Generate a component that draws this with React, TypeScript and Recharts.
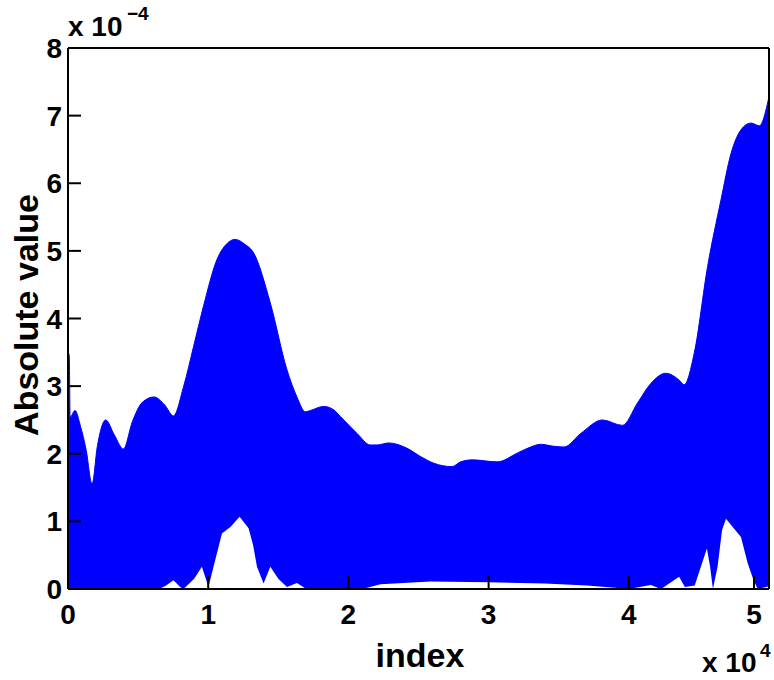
import React from 'react';
import { ComposedChart, Area, XAxis, YAxis } from 'recharts';

// upper envelope of |x| (values in units of 1e-4)
const upperIndex = [
  0, 90, 150, 500, 900, 1300, 1714, 2100, 2690, 3300, 3950, 4600, 5300, 6140, 6900, 7520,
  8240, 8950, 9660, 10620, 11300, 11930, 12600, 13240, 14430, 15620, 16330, 16930,
  17290, 18240, 18950, 19430, 20620, 21570, 22050, 22880, 24190, 25140, 26090, 27400,
  28000, 28830, 30620, 32050, 33000, 33710, 34670, 35380, 36570, 38120, 39550, 40620,
  41570, 42640, 43590, 43950, 44670, 45620, 46570, 47290, 48000, 48710, 49310, 50000,
];
const upperValue = [
  3.5, 3.45, 2.54, 2.64, 2.4, 2.05, 1.55, 2.12, 2.5, 2.28, 2.07, 2.48, 2.76, 2.84, 2.72, 2.56,
  2.99, 3.58, 4.18, 4.87, 5.1, 5.17, 5.1, 4.97, 4.23, 3.24, 2.84, 2.62,
  2.64, 2.7, 2.65, 2.55, 2.3, 2.13, 2.13, 2.16, 2.08, 1.96, 1.86, 1.81,
  1.88, 1.91, 1.88, 2.01, 2.1, 2.14, 2.11, 2.1, 2.3, 2.5, 2.42, 2.75,
  3.04, 3.19, 3.09, 3.02, 3.49, 4.77, 5.75, 6.44, 6.79, 6.89, 6.85, 7.28,
];

// lower envelope (white gap under the band)
const lowerIndex = [
  0, 6500, 7000, 7520, 8000, 8240, 9000, 9550, 10020, 10380, 10980, 11600, 12240, 12880,
  13200, 13480, 13950, 14430, 15000, 15620, 16330, 17000, 21000, 22290, 25860, 30000,
  34000, 37000, 39000, 40000, 41570, 42300, 43590, 44000, 44700, 45570, 45800, 46000,
  46330, 46650, 46930, 48000, 48480, 48900, 49200, 50000,
];
const lowerValue = [
  0, 0, 0.05, 0.13, 0.03, 0, 0.15, 0.33, 0.03, 0.33, 0.82, 0.92, 1.07, 0.9,
  0.65, 0.33, 0.08, 0.33, 0.15, 0.03, 0.09, 0, 0, 0.07, 0.11, 0.1,
  0.08, 0.05, 0.02, 0, 0.06, 0, 0.18, 0.03, 0.05, 0.6, 0.33, 0,
  0.33, 0.87, 1.04, 0.77, 0.38, 0.13, 0, 0.04,
];

const xTicks = [0, 10000, 20000, 30000, 40000, 50000];
const yTicks = [0, 1, 2, 3, 4, 5, 6, 7, 8];

const upperData = upperIndex.map((i, k) => ({ i, hi: upperValue[k] }));
const lowerData = lowerIndex.map((i, k) => ({ i, lo: lowerValue[k] }));

const FONT = '"Liberation Sans", Arial, Helvetica, sans-serif';
const TICK_LEN = 13;

const BottomTick = (props: any) => {
  const { x, y, payload } = props;
  return (
    <g>
      <line x1={x} x2={x} y1={y} y2={y - TICK_LEN} stroke="#000" strokeWidth={2} />
      <text x={x} y={y + 35} textAnchor="middle" fontFamily={FONT} fontWeight="bold" fontSize={28} fill="#000">
        {payload.value / 10000}
      </text>
    </g>
  );
};

const TopTick = (props: any) => {
  const { x, y } = props;
  return <line x1={x} x2={x} y1={y} y2={y + TICK_LEN} stroke="#000" strokeWidth={2} />;
};

const LeftTick = (props: any) => {
  const { x, y, payload } = props;
  return (
    <g>
      <line x1={x} x2={x + TICK_LEN} y1={y} y2={y} stroke="#000" strokeWidth={2} />
      <text x={x - 6} y={y + 10} textAnchor="end" fontFamily={FONT} fontWeight="bold" fontSize={28} fill="#000">
        {payload.value}
      </text>
    </g>
  );
};

const RightTick = (props: any) => {
  const { x, y } = props;
  return <line x1={x} x2={x - TICK_LEN} y1={y} y2={y} stroke="#000" strokeWidth={2} />;
};

const axisLine = { stroke: '#000', strokeWidth: 2 };

export default function App() {
  return (
    <div style={{ position: 'absolute', left: 0, top: 0, width: 774, height: 680, background: '#fff' }}>
      <ComposedChart width={774} height={680} margin={{ top: 47, right: 4, bottom: 90, left: 0 }}>
        <Area
          xAxisId="b"
          yAxisId="l"
          data={upperData}
          dataKey="hi"
          type="monotone"
          stroke="#0000ff"
          strokeWidth={1}
          fill="#0000ff"
          fillOpacity={1}
          isAnimationActive={false}
          dot={false}
          activeDot={false}
        />
        <Area
          xAxisId="b"
          yAxisId="l"
          data={lowerData}
          dataKey="lo"
          type="linear"
          stroke="none"
          fill="#ffffff"
          fillOpacity={1}
          isAnimationActive={false}
          dot={false}
          activeDot={false}
        />
        <XAxis
          xAxisId="b"
          dataKey="i"
          type="number"
          domain={[0, 50000]}
          ticks={xTicks}
          tickSize={0}
          tickMargin={0}
          height={1}
          axisLine={axisLine}
          tickLine={false}
          tick={<BottomTick />}
        />
        <XAxis
          xAxisId="t"
          orientation="top"
          type="number"
          domain={[0, 50000]}
          ticks={xTicks}
          tickSize={0}
          tickMargin={0}
          height={1}
          axisLine={axisLine}
          tickLine={false}
          tick={<TopTick />}
        />
        <YAxis
          yAxisId="l"
          type="number"
          domain={[0, 8]}
          ticks={yTicks}
          tickSize={0}
          tickMargin={0}
          width={68}
          axisLine={axisLine}
          tickLine={false}
          tick={<LeftTick />}
        />
        <YAxis
          yAxisId="r"
          orientation="right"
          type="number"
          domain={[0, 8]}
          ticks={yTicks}
          tickSize={0}
          tickMargin={0}
          width={1}
          axisLine={axisLine}
          tickLine={false}
          tick={<RightTick />}
        />
      </ComposedChart>
      <svg
        width={774}
        height={680}
        style={{ position: 'absolute', left: 0, top: 0, pointerEvents: 'none' }}
      >
        <g fontFamily={FONT} fontWeight="bold" fill="#000">
          <text x={68} y={36} fontSize={28}>x 10</text>
          <text x={127} y={20} fontSize={19}>−4</text>
          <text x={702} y={672} fontSize={28}>x 10</text>
          <text x={760} y={657} fontSize={19}>4</text>
          <text x={420} y={667} fontSize={34} textAnchor="middle">index</text>
          <text x={38} y={315} fontSize={34} textAnchor="middle" transform="rotate(-90 38 315)">
            Absolute value
          </text>
        </g>
      </svg>
    </div>
  );
}
